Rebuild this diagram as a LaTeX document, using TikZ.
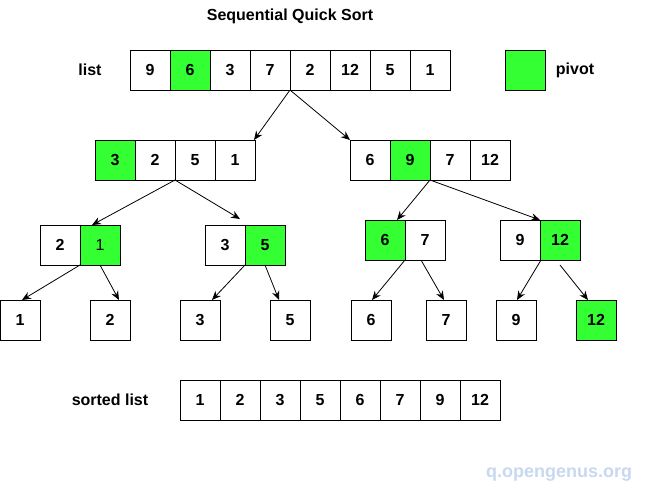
\documentclass[tikz,border=0pt]{standalone}
\usepackage{fontspec}
\setmainfont{Liberation Sans}
\usetikzlibrary{arrows.meta}
\definecolor{pivotgreen}{HTML}{33FF33}
\definecolor{wmark}{HTML}{C8D8F0}
\tikzset{
  cell/.style={draw=black, line width=1pt, minimum width=40pt, minimum height=40pt,
    inner sep=0pt, outer sep=0pt, fill=white, font=\bfseries\fontsize{16}{19}\selectfont},
  gcell/.style={cell, fill=pivotgreen},
  lbl/.style={inner sep=0pt, font=\bfseries\fontsize{16}{19}\selectfont},
  conn/.style={draw=black, line width=0.8pt, -{Stealth[length=9pt,width=7.5pt,inset=3pt]}}
}
\begin{document}
\begin{tikzpicture}[x=1pt,y=-1pt]
\useasboundingbox (0,0) rectangle (651,491);
% title
\node[lbl] (title) at (290,16) {Sequential Quick Sort};
% top list
\node[lbl] (listlbl) at (90,70) {list};
\node[cell]  (t1) at (150,70) {9};
\node[gcell] (t2) at (190,70) {6};
\node[cell]  (t3) at (230,70) {3};
\node[cell]  (t4) at (270,70) {7};
\node[cell]  (t5) at (310,70) {2};
\node[cell]  (t6) at (350,70) {12};
\node[cell]  (t7) at (390,70) {5};
\node[cell]  (t8) at (430,70) {1};
% legend
\node[gcell] (leg) at (525,70) {};
\node[lbl] (pivotlbl) at (575,70) {pivot};
% level 2
\node[gcell] (l1) at (115,160) {3};
\node[cell]  (l2) at (155,160) {2};
\node[cell]  (l3) at (195,160) {5};
\node[cell]  (l4) at (235,160) {1};
\node[cell]  (r1) at (370,160) {6};
\node[gcell] (r2) at (410,160) {9};
\node[cell]  (r3) at (450,160) {7};
\node[cell]  (r4) at (490,160) {12};
% level 3
\node[cell]  (a1) at (60,245) {2};
\node[gcell, font=\fontsize{16}{19}\selectfont] (a2) at (100,245) {1};
\node[cell]  (b1) at (225,245) {3};
\node[gcell] (b2) at (265,245) {5};
\node[gcell] (c1) at (385,240) {6};
\node[cell]  (c2) at (425,240) {7};
\node[cell]  (d1) at (520,240) {9};
\node[gcell] (d2) at (560,240) {12};
% level 4
\node[cell]  (e1) at (20,320) {1};
\node[cell]  (e2) at (110,320) {2};
\node[cell]  (e3) at (200,320) {3};
\node[cell]  (e5) at (290,320) {5};
\node[cell]  (e6) at (371,320) {6};
\node[cell]  (e7) at (446,320) {7};
\node[cell]  (e9) at (516,320) {9};
\node[gcell] (e12) at (596,320) {12};
% sorted list
\node[lbl] (sortedlbl) at (110,400) {sorted list};
\node[cell] (s1) at (200,400) {1};
\node[cell] (s2) at (240,400) {2};
\node[cell] (s3) at (280,400) {3};
\node[cell] (s4) at (320,400) {5};
\node[cell] (s5) at (360,400) {6};
\node[cell] (s6) at (400,400) {7};
\node[cell] (s7) at (440,400) {9};
\node[cell] (s8) at (480,400) {12};
% watermark
\node[inner sep=0pt, text=wmark, font=\bfseries\fontsize{18}{21}\selectfont] (wm) at (559,475) {q.opengenus.org};
% connectors
\draw[conn] (t4.south east) -- ([xshift=-1pt]l4.north east);
\draw[conn] (t4.south east) -- (r1.north west);
\draw[conn] (l2.south east) -- ([xshift=12pt]a2.north west);
\draw[conn] (l2.south east) -- ([xshift=-5pt,yshift=6pt]b1.north east);
\draw[conn] (r2.south east) -- ([xshift=-8pt]c1.north east);
\draw[conn] (r2.south east) -- (d2.north west);
\draw[conn] (a1.south east) -- ([xshift=2pt]e1.north);
\draw[conn] ([xshift=-20pt]a2.south east) -- ([xshift=9pt]e2.north);
\draw[conn] (b1.south east) -- ([xshift=12pt]e3.north);
\draw[conn] (b2.south) -- ([xshift=-11pt]e5.north);
\draw[conn] (c1.south east) -- ([xshift=1pt]e6.north);
\draw[conn] ([xshift=16pt]c2.south west) -- ([xshift=-2pt]e7.north);
\draw[conn] ([xshift=1pt]d1.south east) -- ([xshift=1pt]e9.north);
\draw[conn] ([yshift=-5pt]d2.south) -- ([xshift=-8pt]e12.north);
\end{tikzpicture}
\end{document}
